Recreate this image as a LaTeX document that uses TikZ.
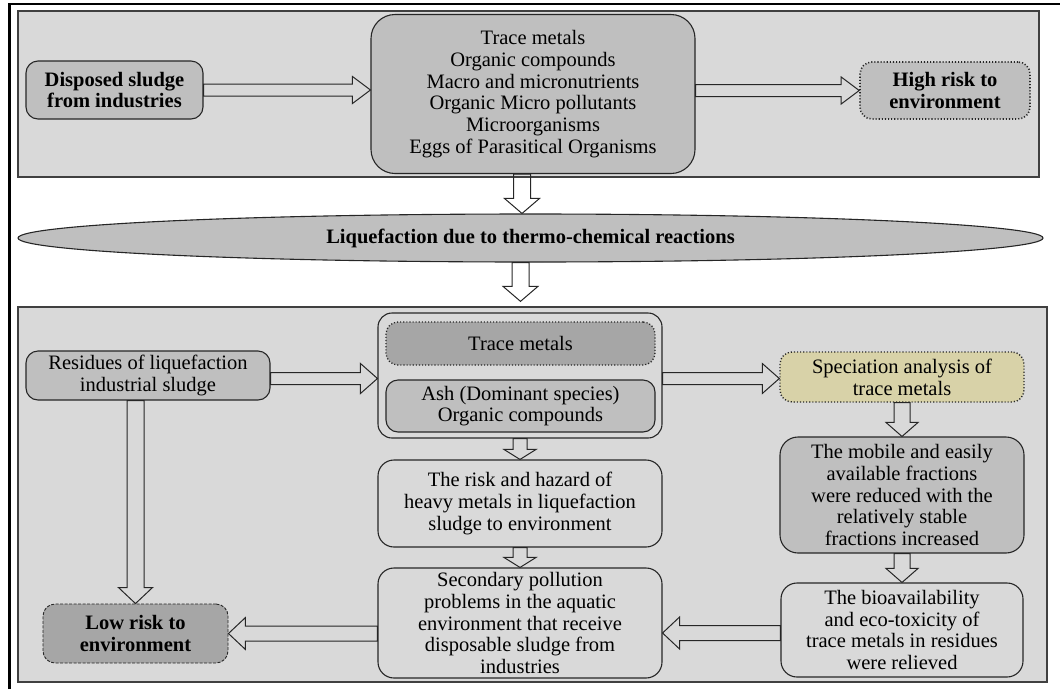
\documentclass[tikz,border=0pt]{standalone}
\usepackage{fontspec}
\setmainfont{Liberation Serif}
\usetikzlibrary{shapes.geometric,calc}
\definecolor{panelgray}{HTML}{D9D9D9}
\definecolor{boxgray}{HTML}{BFBFBF}
\definecolor{darkgray}{HTML}{A6A6A6}
\definecolor{khaki}{HTML}{D8D2A8}
\tikzset{
  panel/.style={draw=black!75, line width=1.3pt, fill=panelgray, inner sep=0pt},
  box/.style={draw=black!85, line width=1.1pt, rounded corners=12pt, align=center, inner sep=0pt,
    font=\fontsize{20.5}{21.8}\selectfont},
  boldbox/.style={box, font=\fontsize{20.5}{21.8}\selectfont\bfseries},
  blockarrow/.style={draw=black!85, line width=1pt, line join=miter},
}
% right-pointing block arrow: from, to, shaft half width, head half width, head length
\newcommand{\rarr}[5]{\path[blockarrow] let \p1=(#1), \p2=(#2) in
  (\x1,\y1-#3) -- (\x2-#5,\y1-#3) -- (\x2-#5,\y1-#4) -- (\x2,\y1) -- (\x2-#5,\y1+#4) -- (\x2-#5,\y1+#3) -- (\x1,\y1+#3) -- cycle;}
\newcommand{\larr}[5]{\path[blockarrow] let \p1=(#1), \p2=(#2) in
  (\x1,\y1-#3) -- (\x2+#5,\y1-#3) -- (\x2+#5,\y1-#4) -- (\x2,\y1) -- (\x2+#5,\y1+#4) -- (\x2+#5,\y1+#3) -- (\x1,\y1+#3) -- cycle;}
\newcommand{\darr}[5]{\path[blockarrow] let \p1=(#1), \p2=(#2) in
  (\x1-#3,\y1) -- (\x1-#3,\y2+#5) -- (\x1-#4,\y2+#5) -- (\x1,\y2) -- (\x1+#4,\y2+#5) -- (\x1+#3,\y2+#5) -- (\x1+#3,\y1) -- cycle;}
\begin{document}
\begin{tikzpicture}[x=1pt,y=-1pt]
\useasboundingbox (0,0) rectangle (1060,689);
% outer frame
\draw[line width=2.5pt] (9.5,689) -- (9.5,4) -- (1060,4);
% panels
\node[panel, minimum width=1021pt, minimum height=166pt] (top) at (528.5,94) {};
\node[panel, minimum width=1029pt, minimum height=375pt] (bot) at (532.5,494.5) {};
% top row
\node[boldbox, fill=boxgray, minimum width=177pt, minimum height=58pt] (disp) at (114.5,90) {Disposed sludge\\from industries};
\node[box, fill=boxgray, rounded corners=24pt, minimum width=324pt, minimum height=159pt] (mid) at (533,94)
  {Trace metals\\Organic compounds\\Macro and micronutrients\\Organic Micro pollutants\\Microorganisms\\Eggs of Parasitical Organisms};
\node[boldbox, fill=boxgray, dotted, line width=1.6pt, minimum width=170pt, minimum height=57pt] (high) at (945,90.5) {High risk to\\environment};
% ellipse
\node[ellipse, draw=black!85, line width=1.1pt, fill=boxgray, minimum width=1025pt, minimum height=48pt, inner sep=0pt,
  font=\fontsize{20.5}{22}\selectfont\bfseries] (ell) at (530.5,238) {Liquefaction due to thermo-chemical reactions};
% bottom panel nodes
\node[box, fill=boxgray, minimum width=244pt, minimum height=49pt] (res) at (148,375.5) {Residues of liquefaction\\industrial sludge};
\node[box, fill=panelgray, rounded corners=14pt, minimum width=284pt, minimum height=125pt] (cont) at (520,375.5) {};
\node[box, fill=darkgray, dotted, line width=1.3pt, minimum width=269pt, minimum height=43pt] (tm) at (520.5,343.5) {Trace metals};
\node[box, fill=boxgray, minimum width=269pt, minimum height=52pt] (ash) at (520.5,406) {Ash (Dominant species)\\Organic compounds};
\node[box, fill=khaki, dotted, line width=1.4pt, minimum width=244pt, minimum height=50pt] (spec) at (902,377) {Speciation analysis of\\trace metals};
\node[box, fill=boxgray, rounded corners=18pt, minimum width=244pt, minimum height=116pt] (mob) at (902,495)
  {The mobile and easily\\available fractions\\were reduced with the\\relatively stable\\fractions increased};
\node[box, fill=panelgray, rounded corners=16pt, minimum width=242pt, minimum height=94pt] (bio) at (902,630)
  {The bioavailability\\and eco-toxicity of\\trace metals in residues\\were relieved};
\node[box, fill=panelgray, rounded corners=16pt, minimum width=284pt, minimum height=87pt] (risk) at (520,503.5)
  {The risk and hazard of\\heavy metals in liquefaction\\sludge to environment};
\node[box, fill=panelgray, rounded corners=16pt, minimum width=284pt, minimum height=110pt] (sec) at (520,623)
  {Secondary pollution\\problems in the aquatic\\environment that receive\\disposable sludge from\\industries};
\node[boldbox, fill=darkgray, dashed, dash pattern=on 3pt off 1.5pt, line width=0.9pt, minimum width=185pt, minimum height=59pt] (low) at (135.5,633.5) {Low risk to\\environment};
% arrows
\rarr{disp.east}{mid.west}{6pt}{13.5pt}{18pt}
\rarr{mid.east |- high.west}{high.west}{6pt}{13.5pt}{18pt}
\darr{$(mid.south)+(-11,0)$}{ell.north}{8.5pt}{17.5pt}{15pt}
\darr{$(ell.south)+(-10,0)$}{$(bot.north)+(0,-5)$}{8.5pt}{17.5pt}{15pt}
\rarr{$(res.east)+(0,3)$}{cont.west}{6pt}{15pt}{17pt}
\rarr{$(cont.east)+(0,3)$}{spec.west}{6pt}{15pt}{17pt}
\darr{spec.south}{mob.north}{8pt}{16pt}{14pt}
\darr{mob.south}{bio.north}{8pt}{16pt}{14pt}
\darr{cont.south}{risk.north}{7pt}{16pt}{10pt}
\darr{risk.south}{sec.north}{7pt}{16pt}{10pt}
\larr{$(bio.west)+(0,3)$}{sec.east}{7.5pt}{16pt}{17pt}
\larr{sec.west |- low.east}{low.east}{7.5pt}{16pt}{17pt}
\darr{low.north |- res.south}{low.north}{8.5pt}{17pt}{16pt}
\end{tikzpicture}
\end{document}
